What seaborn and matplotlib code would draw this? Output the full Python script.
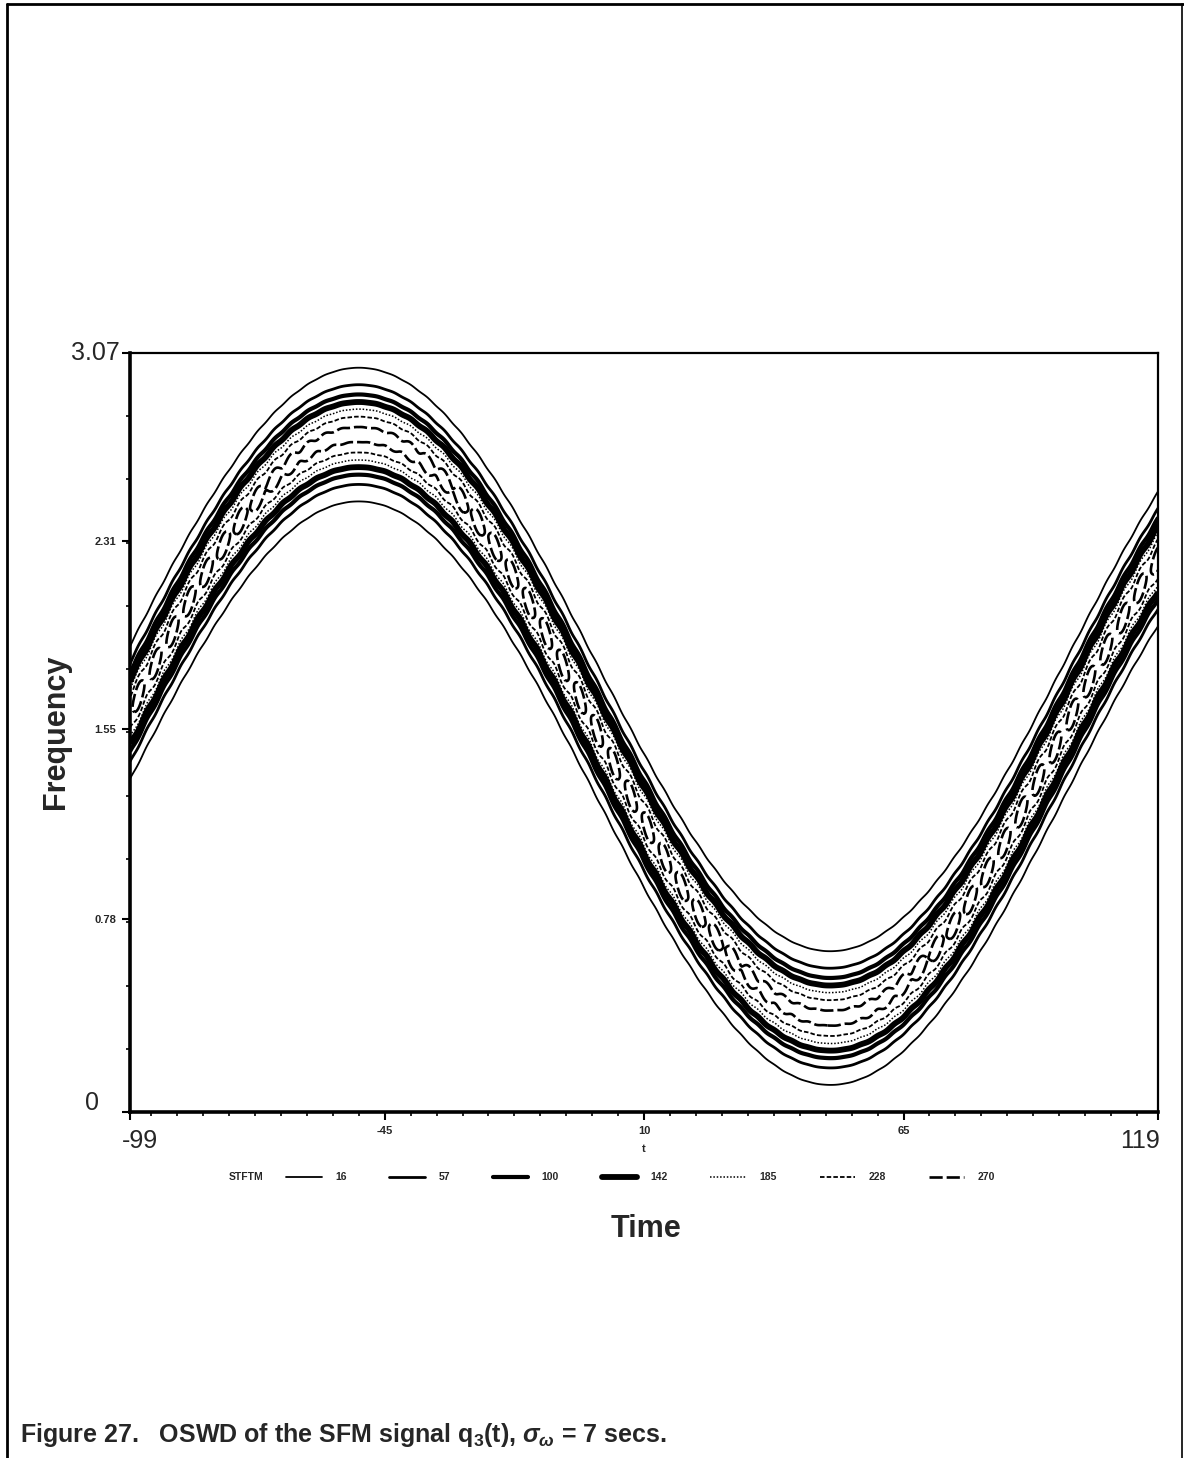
import numpy as np
import matplotlib
matplotlib.use("Agg")
import matplotlib.pyplot as plt
from matplotlib.lines import Line2D
from matplotlib.ticker import FixedLocator
import seaborn as sns

# ---------------- data ----------------
time_range = [-99, 119]
freq_range = [0.0, 3.07]
x_ticks = [-45, 10, 65]
x_tick_labels = ["-45", "10", "65"]
y_ticks = [0.78, 1.55, 2.31]
y_tick_labels = ["0.78", "1.55", "2.31"]

# contour levels of the STFT magnitude (legend)
levels = [16, 57, 100, 142, 185, 228, 270]
level_labels = ["16", "57", "100", "142", "185", "228", "270"]

# ridge (instantaneous frequency of the SFM signal)
ridge_center = 1.56      # mean frequency
ridge_amp = 1.18         # frequency deviation
ridge_period = 200.0     # modulation period (time units)
ridge_peak_t = -50.5     # time of the frequency maximum
band_sigma = 0.113       # spread of the ridge across frequency
peak_value = 280.0       # ridge magnitude
ripple_depth = 0.06      # small ripple on steep parts of the ridge
ripple_period = 3.6

# ---------------- style ----------------
sns.set_theme(style="white")
plt.rcParams["font.family"] = ["Liberation Sans", "DejaVu Sans"]
plt.rcParams["mathtext.fontset"] = "custom"
plt.rcParams["mathtext.rm"] = "Liberation Sans:bold"
plt.rcParams["mathtext.it"] = "Liberation Sans:italic:bold"
plt.rcParams["mathtext.bf"] = "Liberation Sans:bold"

widths = [1.3, 2.0, 3.0, 4.2, 1.1, 1.3, 1.9]
styles = ["solid", "solid", "solid", "solid",
          (0, (1.0, 1.2)), (0, (2.5, 1.2)), (0, (5.0, 1.5))]

fig = plt.figure(figsize=(11.84, 14.58), dpi=100)
ax = fig.add_axes([0.1098, 0.2373, 0.8684, 0.5206])

# ---------------- surface ----------------
t = np.linspace(time_range[0], time_range[1], 900)
f = np.linspace(freq_range[0], freq_range[1], 1000)
T, F = np.meshgrid(t, f)
phase = 2 * np.pi * (T - ridge_peak_t) / ridge_period
ridge = ridge_center + ridge_amp * np.cos(phase)
d = F - ridge
ripple = 1 + ripple_depth * np.abs(np.sin(phase)) * np.cos(2 * np.pi * T / ripple_period)
Z = peak_value * np.exp(-d ** 2 / (2 * band_sigma ** 2)) * ripple

cs = ax.contour(T, F, Z, levels=levels, colors="black",
                linewidths=widths, linestyles=styles)

ax.set_xlim(time_range)
ax.set_ylim(freq_range)

# ---------------- axes decoration ----------------
ax.set_xticks([time_range[0]] + x_ticks + [time_range[1]])
ax.set_xticklabels([""] + x_tick_labels + [""], fontsize=8, fontweight="bold")
ax.set_yticks([freq_range[0]] + y_ticks + [freq_range[1]])
ax.set_yticklabels([""] + y_tick_labels + [""], fontsize=8, fontweight="bold")
ax.xaxis.set_minor_locator(FixedLocator(np.arange(-45 - 5.5 * 9, 120, 5.5)))
ax.yaxis.set_minor_locator(FixedLocator(np.arange(0, 3.07, 3.07 / 12)))
ax.tick_params(axis="both", which="major", direction="out", length=6, width=1.5,
               color="black", pad=4, bottom=True, left=True)
ax.tick_params(axis="both", which="minor", direction="out", length=3, width=1.2,
               color="black", bottom=True, left=True)
for side, lw in [("left", 2.6), ("bottom", 2.6), ("top", 1.6), ("right", 1.6)]:
    ax.spines[side].set_linewidth(lw)
    ax.spines[side].set_color("black")
    ax.spines[side].set_visible(True)

ax.set_xlabel("t", fontsize=8, fontweight="bold", labelpad=6)

# big end labels
ax.text(-0.01, 1.0, "3.07", transform=ax.transAxes, ha="right", va="center", fontsize=18)
ax.text(-0.03, 0.012, "0", transform=ax.transAxes, ha="right", va="center", fontsize=18)
ax.text(0.01, -0.038, "-99", transform=ax.transAxes, ha="center", va="center", fontsize=18)
ax.text(0.982, -0.038, "119", transform=ax.transAxes, ha="center", va="center", fontsize=18)

fig.text(0.047, 0.498, "Frequency", rotation=90, ha="center", va="center",
         fontsize=22, fontweight="bold")
fig.text(0.546, 0.157, "Time", ha="center", va="center", fontsize=22, fontweight="bold")

# legend
handles = [Line2D([], [], color="black", lw=w, ls=s) for w, s in zip(widths, styles)]
fig.text(0.208, 0.1925, "STFTM", ha="center", va="center", fontsize=7.5, fontweight="bold")
leg = fig.legend(handles, level_labels, loc="center", bbox_to_anchor=(0.541, 0.1925),
                 ncol=7, frameon=False, handlelength=3.4, handletextpad=1.3,
                 columnspacing=4.1, prop={"size": 7.5, "weight": "bold"})

# caption
fig.text(0.017, 0.0065,
         r"Figure 27.   OSWD of the SFM signal q$_3$(t), $\sigma_\omega$ = 7 secs.",
         ha="left", va="bottom", fontsize=18, fontweight="bold")

# page border
for xs, ys, lw in [([0.006, 0.006], [0.0, 0.997], 2.0),
                   ([0.006, 1.0], [0.997, 0.997], 2.0),
                   ([0.998, 0.998], [0.0, 0.997], 1.2)]:
    fig.add_artist(Line2D(xs, ys, transform=fig.transFigure, color="black", lw=lw))

fig.savefig("out.png", dpi=100, facecolor="white")
